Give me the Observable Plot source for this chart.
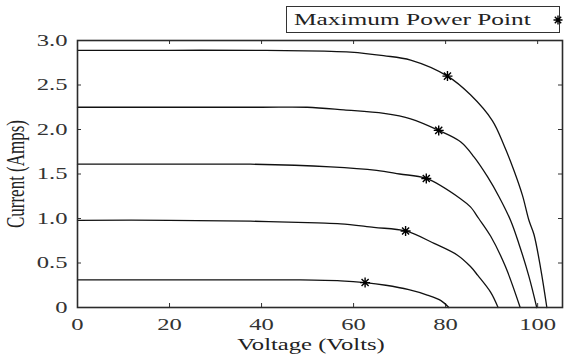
<!DOCTYPE html>
<html><head><meta charset="utf-8">
<script src="https://cdn.jsdelivr.net/npm/d3@7"></script>
<script src="https://cdn.jsdelivr.net/npm/@observablehq/plot@0.6"></script>
<style>
body{margin:0;background:#fff;}
#wrap{position:relative;width:571px;height:356px;overflow:hidden;}
#chart svg text{font-family:"Liberation Serif","Times New Roman",Times,"DejaVu Serif",serif !important;}
#legend{position:absolute;left:286px;top:6px;width:274px;height:27px;border:1px solid #333;background:#fff;box-sizing:border-box;font-family:"Liberation Serif","Times New Roman",Times,"DejaVu Serif",serif;font-size:17.5px;color:#222;}
#legend span{position:absolute;left:7px;top:2px;line-height:20px;white-space:nowrap;transform:scaleX(1.45);transform-origin:0 50%;}
#legend svg{position:absolute;left:265px;top:7px;}
</style></head><body>
<div id="wrap"><div id="chart"></div>
<div id="legend"><span id="legtext"></span><svg width="12" height="12" viewBox="-6 -6 12 12"><path d="M-4.5,0H4.5M0,-4.5V4.5M-3.2,-3.2L3.2,3.2M-3.2,3.2L3.2,-3.2" stroke="#000" stroke-width="1.4"/></svg></div>
</div>
<script>
const legendLabel = "Maximum Power Point";
const xTitle = "Voltage (Volts)";
const yTitle = "Current (Amps)";
const xTicks = [0, 20, 40, 60, 80, 100];
const yTicks = [0, 0.5, 1, 1.5, 2, 2.5, 3];
const yTickLabels = ["0", "0.5", "1.0", "1.5", "2.0", "2.5", "3.0"];

const curve1V = [0, 20, 40, 53.6, 59.3, 66.5, 72.4, 80.4, 85.4, 90.15, 92.7, 94.85, 96.7, 98.1, 99.2, 100.65, 102];
const curve1I = [2.89, 2.89, 2.89, 2.88, 2.87, 2.83, 2.78, 2.60, 2.39, 2.10, 1.82, 1.54, 1.26, 0.98, 0.82, 0.44, 0];
const curve2V = [0, 20, 40, 49.9, 57.9, 66.6, 72.4, 78.5, 83.3, 86.2, 89.1, 91.6, 94.1, 95.9, 98.1, 99.8];
const curve2I = [2.25, 2.25, 2.25, 2.25, 2.22, 2.18, 2.12, 1.99, 1.86, 1.69, 1.47, 1.245, 0.98, 0.72, 0.35, 0];
const curve3V = [0, 20, 37.6, 55, 65, 70, 75.8, 83.3, 85.4, 87.2, 89.8, 93.0, 96.2];
const curve3I = [1.61, 1.61, 1.61, 1.58, 1.54, 1.50, 1.45, 1.22, 1.13, 1.00, 0.80, 0.46, 0];
const curve4V = [0, 20, 37.6, 52.1, 57.2, 64.4, 71.3, 77.5, 82.5, 85.4, 87.0, 89.8, 91.4];
const curve4I = [0.98, 0.98, 0.97, 0.95, 0.94, 0.90, 0.86, 0.72, 0.59, 0.46, 0.36, 0.17, 0];
const curve5V = [0, 20, 37.6, 48.5, 57.2, 62.5, 67, 72, 76, 78.9, 80.7];
const curve5I = [0.31, 0.31, 0.31, 0.31, 0.30, 0.28, 0.25, 0.20, 0.14, 0.08, 0];
const mppV = [80.4, 78.5, 75.8, 71.3, 62.5];
const mppI = [2.60, 1.99, 1.45, 0.86, 0.28];

document.getElementById("legtext").textContent = legendLabel;

const curveList = [[curve1V, curve1I], [curve2V, curve2I], [curve3V, curve3I], [curve4V, curve4I], [curve5V, curve5I]];
const rows = curveList.flatMap(([vs, is], k) => vs.map((v, j) => ({id: k, v, i: is[j]})));
const mpp = mppV.map((v, j) => ({v, i: mppI[j]}));

const star8 = {
  draw(ctx, size) {
    const r = Math.sqrt(size / Math.PI);
    const d = r * Math.SQRT1_2;
    ctx.moveTo(-r, 0); ctx.lineTo(r, 0);
    ctx.moveTo(0, -r); ctx.lineTo(0, r);
    ctx.moveTo(-d, -d); ctx.lineTo(d, d);
    ctx.moveTo(-d, d); ctx.lineTo(d, -d);
  }
};

const W = 571, H = 356, mL = 77, mR = 9, mT = 40, mB = 49;
const innerW = W - mL - mR, innerH = H - mT - mB;

const chart = Plot.plot({
  width: W, height: H,
  marginLeft: mL, marginRight: mR, marginTop: mT, marginBottom: mB,
  x: {domain: [0, 105.4]},
  y: {domain: [0, 3]},
  style: {fontFamily: "Liberation Serif, serif", fontSize: "17px", color: "#333", background: "white"},
  marks: [
    Plot.tickX(xTicks, {x: d => d, insetTop: innerH - 4, stroke: "#333"}),
    Plot.tickX(xTicks, {x: d => d, insetBottom: innerH - 4, stroke: "#333"}),
    Plot.tickY(yTicks, {y: d => d, insetRight: innerW - 4, stroke: "#333"}),
    Plot.tickY(yTicks, {y: d => d, insetLeft: innerW - 4, stroke: "#333"}),
    Plot.axisX({ticks: xTicks, tickSize: 0, tickPadding: 10, label: null, fill: "#333"}),
    Plot.axisY({ticks: yTicks, tickSize: 0, tickPadding: 10, label: null, fill: "#333",
      tickFormat: d => yTickLabels[yTicks.indexOf(d)]}),
    Plot.line(rows, {x: "v", y: "i", z: "id", curve: "catmull-rom", stroke: "#111", strokeWidth: 1.3}),
    Plot.dot(mpp, {x: "v", y: "i", r: 5, symbol: star8, stroke: "#000", strokeWidth: 1.4, fill: "none"}),
    Plot.text([xTitle], {frameAnchor: "bottom", textAnchor: "middle", dy: 42, dx: -9, text: d => d, fill: "#222", fontSize: 17}),
    Plot.text([yTitle], {frameAnchor: "left", textAnchor: "middle", dx: -61, rotate: -90, text: d => d, fill: "#222", fontSize: 17}),
    Plot.frame({stroke: "#2b2b2b", strokeWidth: 1.6})
  ]
});
document.getElementById("chart").appendChild(chart);

// widen horizontal glyphs like the reference (scale about each text's own anchor)
chart.querySelectorAll("text").forEach(t => {
  const txt = t.textContent;
  const tr = t.getAttribute("transform") || "";
  if (txt === yTitle) {
    t.setAttribute("transform", `${tr} scale(1,1.45)`);
  } else {
    const x = +(t.getAttribute("x") || 0);
    t.setAttribute("transform", `${tr} translate(${x},0) scale(1.45,1) translate(${-x},0)`);
  }
});
</script>
</body></html>
